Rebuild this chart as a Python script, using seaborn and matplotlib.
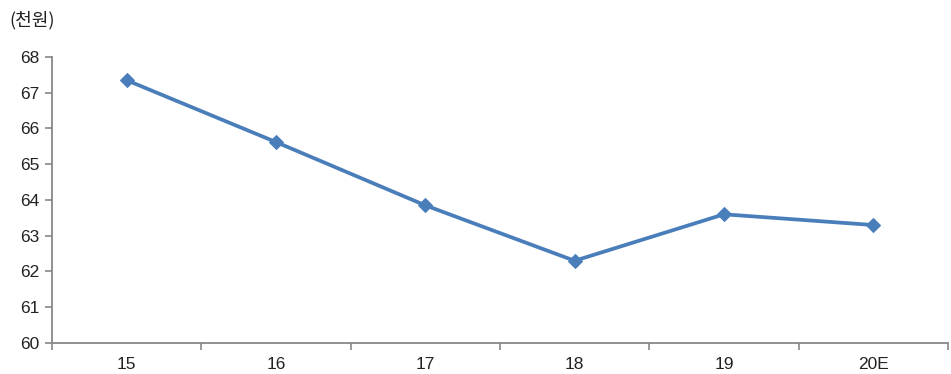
import matplotlib
matplotlib.use("Agg")
import matplotlib.pyplot as plt
import seaborn as sns
import pandas as pd
import numpy as np

categories = ["15", "16", "17", "18", "19", "20E"]
values = [67.35, 65.62, 63.85, 62.3, 63.6, 63.3]
y_ticks = [60, 61, 62, 63, 64, 65, 66, 67, 68]
unit_label = "(천원)"

sns.set_style("white")
plt.rcParams['font.family'] = ['Liberation Sans', 'Noto Sans CJK KR', 'DejaVu Sans']

df = pd.DataFrame({"x": np.arange(len(categories)), "y": values})

fig = plt.figure(figsize=(9.51, 3.74), dpi=100)
ax = fig.add_axes([0.0547, 0.0829, 0.9421, 0.7647])

color = "#4a7ebb"
sns.lineplot(data=df, x="x", y="y", ax=ax, color=color, linewidth=2.7,
             marker="D", markersize=7.5, markeredgecolor=color, markerfacecolor=color)

ax.set_xlim(-0.5, len(categories) - 0.5)
ax.set_ylim(60, 68)
ax.set_yticks(y_ticks)
ax.set_yticklabels([str(t) for t in y_ticks])
ax.set_xticks(np.arange(len(categories)))
ax.set_xticklabels(categories)
ax.set_xticks(np.arange(-0.5, len(categories)), minor=True)
ax.tick_params(axis="x", which="major", bottom=True, length=0, pad=10, labelsize=12.5, colors="#222222")
ax.tick_params(axis="x", which="minor", bottom=True, length=5, width=1.2, color="#888888", direction="out")
ax.tick_params(axis="y", which="major", left=True, length=5, width=1.2, color="#888888", direction="out",
               labelsize=12.5, labelcolor="#222222", pad=4)
ax.set_xlabel("")
ax.set_ylabel("")

for s in ["top", "right"]:
    ax.spines[s].set_visible(False)
for s in ["left", "bottom"]:
    ax.spines[s].set_color("#888888")
    ax.spines[s].set_linewidth(1.3)

fig.text(0.010, 0.947, unit_label, fontsize=13, color="#222222",
         family=['Noto Sans CJK KR', 'DejaVu Sans'], ha="left", va="center")

fig.savefig("out.png", dpi=100)
